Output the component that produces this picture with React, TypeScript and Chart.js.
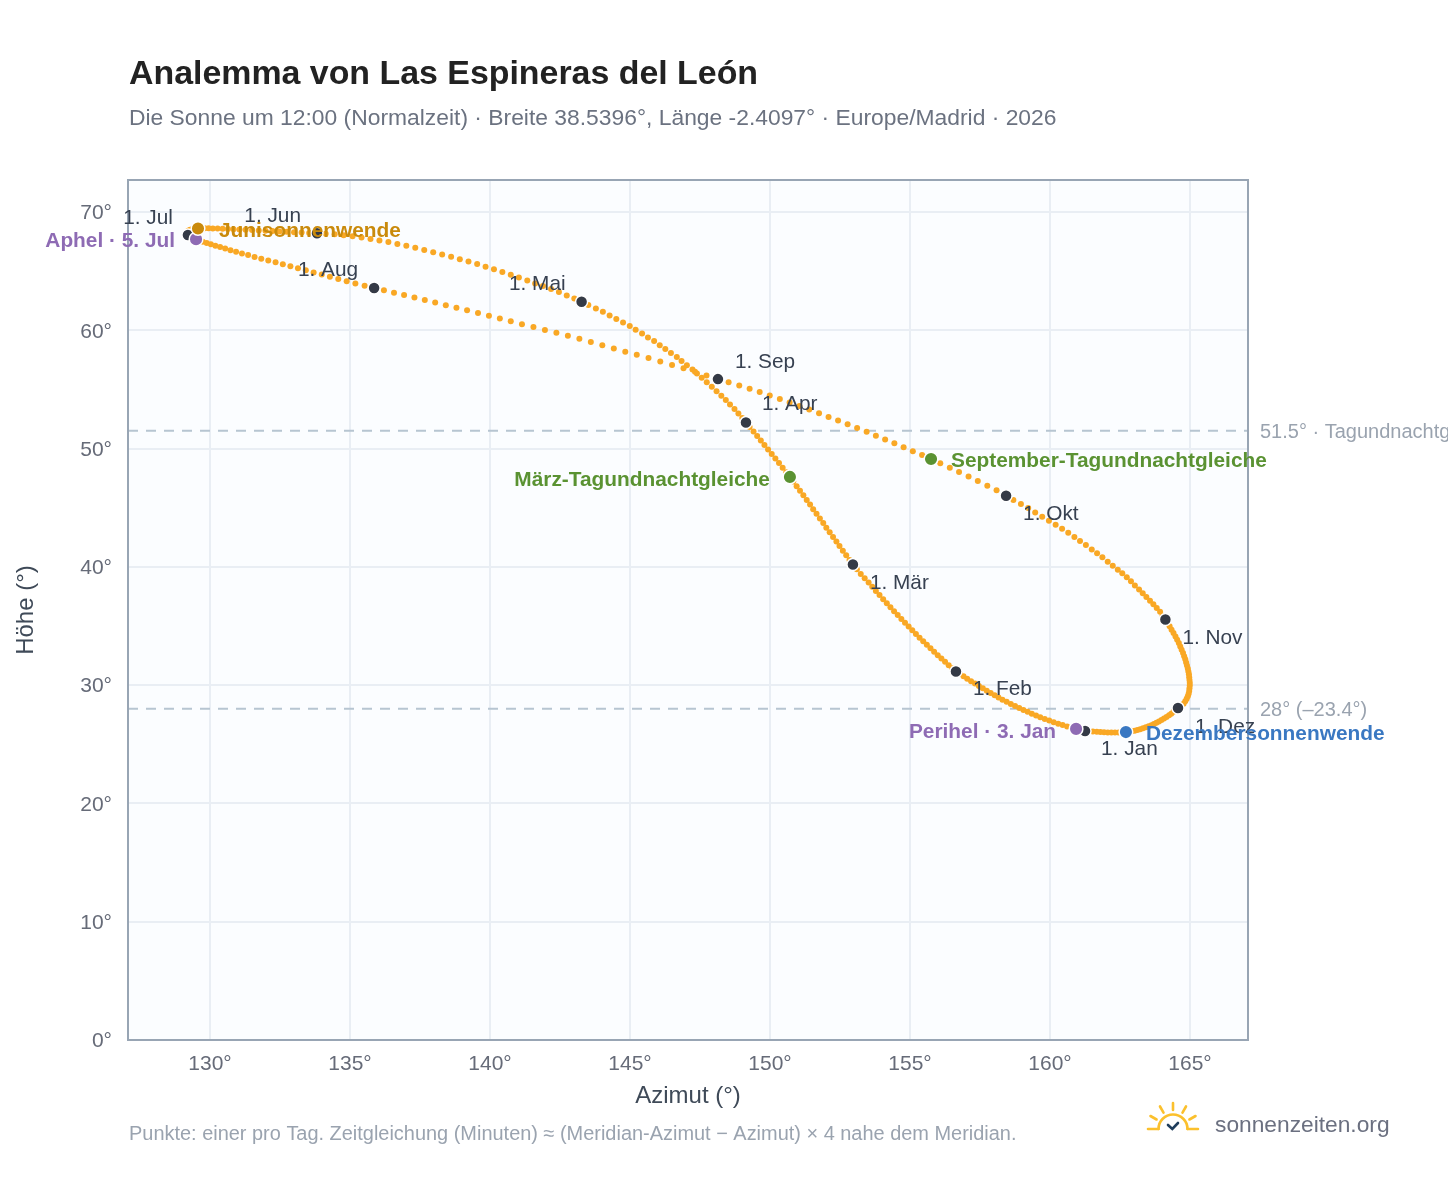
import React, { useEffect, useRef } from "react";
import { Chart, registerables } from "chart.js";

Chart.register(...registerables);

const azJan = [161.18,161.02,160.86,160.70,160.54,160.38,160.22,160.06,159.90,159.74,159.58,159.43,159.28,159.13,158.98,158.83,158.68,158.53,158.38,158.23,158.09,157.95,157.81,157.67,157.53,157.39,157.25,157.11,156.97,156.84,156.70];
const altJan = [26.12,26.20,26.30,26.40,26.51,26.62,26.74,26.87,27.00,27.14,27.28,27.43,27.58,27.74,27.90,28.07,28.24,28.41,28.59,28.77,28.96,29.15,29.34,29.53,29.73,29.93,30.13,30.33,30.54,30.75,30.96];
const azFeb = [156.57,156.44,156.31,156.18,156.05,155.92,155.79,155.66,155.53,155.40,155.27,155.14,155.01,154.88,154.75,154.62,154.49,154.36,154.23,154.10,153.97,153.84,153.71,153.58,153.45,153.31,153.17,153.03];
const altFeb = [31.15,31.42,31.69,31.97,32.25,32.53,32.82,33.11,33.41,33.71,34.01,34.32,34.63,34.95,35.27,35.59,35.92,36.25,36.58,36.92,37.26,37.61,37.96,38.31,38.67,39.03,39.40,39.80];
const azMar = [152.89,152.77,152.65,152.53,152.41,152.30,152.18,152.06,151.94,151.83,151.71,151.59,151.47,151.36,151.24,151.12,151.00,150.88,150.76,150.64,150.51,150.38,150.25,150.12,149.99,149.86,149.73,149.60,149.47,149.34,149.20];
const altMar = [40.20,40.58,40.97,41.36,41.75,42.14,42.53,42.92,43.31,43.70,44.09,44.48,44.87,45.26,45.65,46.04,46.43,46.82,47.21,47.60,47.99,48.38,48.77,49.15,49.53,49.91,50.29,50.67,51.05,51.43,51.81];
const azApr = [149.07,148.94,148.80,148.66,148.50,148.35,148.19,148.02,147.85,147.67,147.49,147.32,147.16,146.96,146.77,146.60,146.39,146.19,145.99,145.79,145.57,145.36,145.13,144.92,144.68,144.44,144.20,143.96,143.71,143.44];
const altApr = [52.20,52.58,52.96,53.34,53.72,54.10,54.47,54.85,55.23,55.61,55.98,56.35,56.69,57.03,57.39,57.73,58.07,58.41,58.74,59.08,59.39,59.73,60.04,60.35,60.66,60.94,61.25,61.56,61.84,62.13];
const azMay = [143.20,142.94,142.67,142.39,142.11,141.82,141.54,141.26,140.96,140.67,140.37,140.07,139.77,139.47,139.16,138.85,138.54,138.22,137.90,137.58,137.26,136.94,136.62,136.30,135.98,135.66,135.34,135.02,134.70,134.38,134.06];
const altMay = [62.41,62.69,62.94,63.23,63.48,63.73,63.96,64.21,64.46,64.69,64.92,65.15,65.37,65.59,65.80,66.01,66.21,66.41,66.60,66.79,66.97,67.14,67.30,67.45,67.59,67.72,67.84,67.95,68.04,68.11,68.16];
const azJun = [133.75,133.47,133.20,132.93,132.67,132.41,132.16,131.91,131.67,131.43,131.20,130.98,130.77,130.57,130.38,130.20,130.03,129.88,129.74,129.61,129.50,129.40,129.32,129.25,129.20,129.16,129.13,129.12,129.12,129.13];
const altJun = [68.20,68.23,68.26,68.29,68.32,68.35,68.38,68.41,68.44,68.47,68.50,68.52,68.54,68.56,68.58,68.60,68.61,68.62,68.62,68.61,68.60,68.58,68.55,68.51,68.47,68.42,68.37,68.31,68.24,68.15];
const azJul = [129.14,129.19,129.26,129.34,129.43,129.54,129.67,129.81,129.96,130.12,130.29,130.47,130.66,130.86,131.07,131.29,131.52,131.76,132.01,132.27,132.53,132.80,133.07,133.35,133.63,133.92,134.21,134.51,134.81,135.12,135.45];
const altJul = [68.05,67.97,67.88,67.79,67.70,67.60,67.49,67.38,67.27,67.15,67.03,66.90,66.77,66.63,66.49,66.35,66.20,66.05,65.90,65.74,65.58,65.41,65.24,65.07,64.89,64.71,64.53,64.34,64.15,63.96,63.77];
const azAug = [135.79,136.14,136.50,136.86,137.23,137.60,137.97,138.35,138.73,139.11,139.50,139.89,140.28,140.67,141.07,141.48,141.89,142.30,142.71,143.12,143.53,143.94,144.35,144.76,145.17,145.59,146.01,146.43,146.84,147.25,147.66];
const altAug = [63.57,63.37,63.17,62.97,62.76,62.55,62.34,62.12,61.90,61.68,61.45,61.22,60.99,60.75,60.51,60.27,60.03,59.78,59.53,59.27,59.00,58.73,58.46,58.19,57.92,57.65,57.36,57.07,56.78,56.49,56.18];
const azSep = [148.07,148.45,148.83,149.20,149.56,149.92,150.28,150.63,150.98,151.33,151.68,152.02,152.36,152.70,153.04,153.38,153.71,154.04,154.37,154.70,155.03,155.36,155.68,156.01,156.35,156.68,157.02,157.35,157.69,158.02];
const altSep = [55.87,55.60,55.33,55.05,54.77,54.48,54.19,53.89,53.59,53.29,52.98,52.67,52.36,52.05,51.73,51.41,51.09,50.77,50.44,50.11,49.78,49.45,49.11,48.75,48.38,48.01,47.63,47.25,46.86,46.47];
const azOct = [158.36,158.62,158.89,159.15,159.40,159.65,159.89,160.13,160.36,160.58,160.80,161.00,161.21,161.42,161.61,161.80,161.99,162.17,162.35,162.51,162.67,162.82,162.96,163.11,163.24,163.37,163.50,163.62,163.74,163.86,163.95];
const altOct = [46.01,45.64,45.31,44.97,44.60,44.24,43.90,43.56,43.22,42.88,42.52,42.18,41.84,41.47,41.14,40.80,40.43,40.09,39.76,39.45,39.11,38.77,38.43,38.09,37.76,37.45,37.14,36.83,36.52,36.20,35.87];
const azNov = [164.05,164.12,164.20,164.27,164.34,164.41,164.47,164.53,164.58,164.63,164.68,164.72,164.76,164.79,164.82,164.85,164.87,164.89,164.90,164.91,164.92,164.92,164.91,164.90,164.88,164.85,164.81,164.76,164.70,164.61];
const altNov = [35.55,35.27,34.98,34.69,34.41,34.12,33.83,33.55,33.27,32.99,32.72,32.45,32.18,31.92,31.66,31.41,31.16,30.91,30.67,30.43,30.19,29.96,29.73,29.50,29.28,29.06,28.84,28.63,28.42,28.24];
const azDec = [164.50,164.42,164.34,164.26,164.18,164.09,164.00,163.91,163.82,163.73,163.64,163.55,163.45,163.35,163.25,163.15,163.05,162.95,162.84,162.73,162.64,162.51,162.38,162.25,162.12,161.99,161.86,161.73,161.60,161.46,161.32];
const altDec = [28.06,27.90,27.74,27.59,27.45,27.31,27.18,27.05,26.93,26.82,26.71,26.61,26.52,26.43,26.35,26.27,26.20,26.14,26.09,26.05,26.03,26.01,26.00,25.99,25.99,26.00,26.01,26.03,26.05,26.07,26.09];

// the arrays were read assuming the left plot edge is 127°; the gridlines put it at 127.07°
const AZ_READING_CORRECTION = 0.07;
const X_MIN = 127.07;
const X_MAX = 167.07;
const Y_MAX = 72.7;

const azMonths = [azJan, azFeb, azMar, azApr, azMay, azJun, azJul, azAug, azSep, azOct, azNov, azDec].map((m) => m.map((v) => v + AZ_READING_CORRECTION));
const altMonths = [altJan, altFeb, altMar, altApr, altMay, altJun, altJul, altAug, altSep, altOct, altNov, altDec];
const monthLabels = ["1. Jan", "1. Feb", "1. Mär", "1. Apr", "1. Mai", "1. Jun", "1. Jul", "1. Aug", "1. Sep", "1. Okt", "1. Nov", "1. Dez"];

const eventNames = ["Aphel · 5. Jul", "Perihel · 3. Jan", "Junisonnenwende", "Dezembersonnenwende", "März-Tagundnachtgleiche", "September-Tagundnachtgleiche"];
const eventAz = [129.5, 160.93, 129.57, 162.71, 150.71, 155.75];
const eventAlt = [67.7, 26.3, 68.6, 26.03, 47.6, 49.11];

const refAlts = [51.5, 28];
const refLabels = ["51.5° · Tagundnachtgleiche", "28° (–23.4°)"];

const xTicks = [130, 135, 140, 145, 150, 155, 160, 165];
const yTicks = [0, 10, 20, 30, 40, 50, 60, 70];

const TITLE = "Analemma von Las Espineras del León";
const SUBTITLE = "Die Sonne um 12:00 (Normalzeit) · Breite 38.5396°, Länge -2.4097° · Europe/Madrid · 2026";
const FOOTNOTE = "Punkte: einer pro Tag. Zeitgleichung (Minuten) ≈ (Meridian-Azimut − Azimut) × 4 nahe dem Meridian.";
const BRAND = "sonnenzeiten.org";

// drawing styles, separate from the values
const FONT = '"Liberation Sans", Arial, sans-serif';
const eventColors = ["#8e6bb4", "#8e6bb4", "#c98a0c", "#3a78c2", "#5a9232", "#5a9232"];
const eventOffsets: [number, number, string][] = [[-21, 2, "right"], [-20, 3, "right"], [21, 3, "left"], [20, 2, "left"], [-20, 3, "right"], [20, 2, "left"]];
const monthOffsets: [number, number, string][] = [[16, 18, "left"], [17, 18, "left"], [17, 19, "left"], [16, -18, "left"], [-16, -17, "right"], [-16, -17, "right"], [-15, -17, "right"], [-16, -18, "right"], [17, -17, "left"], [17, 19, "left"], [17, 19, "left"], [17, 19, "left"]];

const overlay = {
  id: "overlay",
  beforeDraw(chart: any) {
    const { ctx, chartArea: a } = chart;
    ctx.save();
    ctx.fillStyle = "#ffffff";
    ctx.fillRect(0, 0, chart.width, chart.height);
    ctx.fillStyle = "#fbfdff";
    ctx.fillRect(a.left, a.top, a.right - a.left, a.bottom - a.top);
    ctx.restore();
  },
  afterDatasetsDraw(chart: any) {
    const { ctx, chartArea: a, scales } = chart;
    const X = scales.x, Y = scales.y;
    ctx.save();
    ctx.strokeStyle = "#98a5b4";
    ctx.lineWidth = 2;
    ctx.strokeRect(a.left, a.top, a.right - a.left, a.bottom - a.top);

    ctx.textBaseline = "alphabetic";
    ctx.textAlign = "left";
    ctx.fillStyle = "#222222";
    ctx.font = `bold 33.9px ${FONT}`;
    ctx.fillText(TITLE, 129, 84);
    ctx.fillStyle = "#6b7280";
    ctx.font = `22.85px ${FONT}`;
    ctx.fillText(SUBTITLE, 129, 125);
    ctx.fillStyle = "#9aa3af";
    ctx.font = `19.95px ${FONT}`;
    ctx.fillText(FOOTNOTE, 129, 1140);

    ctx.textBaseline = "middle";
    ctx.fillStyle = "#9aa3af";
    ctx.font = `20px ${FONT}`;
    refAlts.forEach((v, i) => ctx.fillText(refLabels[i], a.right + 12, Y.getPixelForValue(v) + 1.5));

    ctx.fillStyle = "#374151";
    ctx.font = `20.8px ${FONT}`;
    monthLabels.forEach((t, i) => {
      const [dx, dy, al] = monthOffsets[i];
      ctx.textAlign = al;
      ctx.fillText(t, X.getPixelForValue(azMonths[i][0]) + dx, Y.getPixelForValue(altMonths[i][0]) + dy);
    });
    ctx.font = `bold 20.85px ${FONT}`;
    eventNames.forEach((t, i) => {
      const [dx, dy, al] = eventOffsets[i];
      ctx.textAlign = al;
      ctx.fillStyle = eventColors[i];
      ctx.fillText(t, X.getPixelForValue(eventAz[i]) + dx, Y.getPixelForValue(eventAlt[i]) + dy);
    });

    // brand
    ctx.textAlign = "left";
    ctx.fillStyle = "#6b7080";
    ctx.font = `22.75px ${FONT}`;
    ctx.fillText(BRAND, 1215, 1126);
    const cx = 1173, cy = 1129;
    ctx.strokeStyle = "#fbc02d";
    ctx.lineWidth = 2.6;
    ctx.lineCap = "round";
    ctx.beginPath();
    ctx.arc(cx, cy, 14.5, Math.PI, 2 * Math.PI);
    ctx.stroke();
    ctx.beginPath();
    ctx.moveTo(cx - 25, cy); ctx.lineTo(cx - 14.5, cy);
    ctx.moveTo(cx + 14.5, cy); ctx.lineTo(cx + 25, cy);
    [30, 60, 90, 120, 150].forEach((deg) => {
      const r = (deg * Math.PI) / 180;
      ctx.moveTo(cx + Math.cos(r) * 19, cy - Math.sin(r) * 19);
      ctx.lineTo(cx + Math.cos(r) * 26, cy - Math.sin(r) * 26);
    });
    ctx.stroke();
    ctx.strokeStyle = "#1f3d5c";
    ctx.beginPath();
    ctx.moveTo(cx - 5, cy - 4);
    ctx.lineTo(cx - 0.7, cy);
    ctx.lineTo(cx + 5, cy - 6);
    ctx.stroke();
    ctx.restore();
  },
};

export default function App() {
  const ref = useRef<HTMLCanvasElement>(null);
  useEffect(() => {
    const azAll = azMonths.flat();
    const altAll = altMonths.flat();
    const chart = new Chart(ref.current as HTMLCanvasElement, {
      type: "scatter",
      data: {
        datasets: [
          {
            label: "Ereignisse",
            data: eventAz.map((x, i) => ({ x, y: eventAlt[i] })),
            pointRadius: 6.8,
            pointBorderWidth: 1.5,
            pointBorderColor: "#ffffff",
            pointBackgroundColor: eventColors,
          },
          {
            label: "Monatsanfang",
            data: azMonths.map((m, i) => ({ x: m[0], y: altMonths[i][0] })),
            pointRadius: 6,
            pointBorderWidth: 1.5,
            pointBorderColor: "#ffffff",
            pointBackgroundColor: "#343a46",
          },
          {
            label: "Tage",
            data: azAll.map((x, i) => ({ x, y: altAll[i] })),
            pointRadius: 3,
            pointBorderWidth: 0,
            pointBackgroundColor: "#f9a825",
          },
          ...refAlts.map((v) => ({
            label: String(v),
            data: [{ x: X_MIN, y: v }, { x: X_MAX, y: v }],
            showLine: true,
            pointRadius: 0,
            borderColor: "#b7c5d1",
            borderWidth: 2,
            borderDash: [10, 8],
          })),
        ],
      },
      options: {
        animation: false,
        responsive: false,
        devicePixelRatio: 1,
        layout: { padding: { top: 180, right: 200, left: 0, bottom: 0 } },
        plugins: { legend: { display: false }, tooltip: { enabled: false }, title: { display: false } },
        scales: {
          x: {
            type: "linear",
            min: X_MIN,
            max: X_MAX,
            afterFit: (s: any) => { s.height = 148; },
            afterBuildTicks: (s: any) => { s.ticks = xTicks.map((value) => ({ value })); },
            grid: { color: "#e9eef4", lineWidth: 2, drawTicks: false },
            border: { display: false },
            ticks: {
              padding: 12,
              color: "#666b78",
              font: { family: FONT, size: 21 },
              maxRotation: 0,
              autoSkip: false,
              callback: (v: any) => `${v}°`,
            },
            title: { display: true, text: "Azimut (°)", color: "#3f4a58", font: { family: FONT, size: 24 }, padding: { top: 0, bottom: 77 } },
          },
          y: {
            type: "linear",
            min: 0,
            max: Y_MAX,
            afterFit: (s: any) => { s.width = 128; },
            afterBuildTicks: (s: any) => { s.ticks = yTicks.map((value) => ({ value })); },
            grid: { color: "#e9eef4", lineWidth: 2, drawTicks: false },
            border: { display: false },
            ticks: {
              padding: 16,
              labelOffset: 1.5,
              color: "#666b78",
              autoSkip: false,
              font: { family: FONT, size: 21 },
              callback: (v: any) => `${v}°`,
            },
            title: { display: true, text: "Höhe (°)", color: "#3f4a58", font: { family: FONT, size: 24 }, padding: { top: 12, bottom: 0 } },
          },
        },
      },
      plugins: [overlay],
    } as any);
    return () => chart.destroy();
  }, []);
  return (
    <canvas
      ref={ref}
      width={1448}
      height={1188}
      style={{ position: "absolute", left: 0, top: 0, width: 1448, height: 1188, display: "block" }}
    />
  );
}
